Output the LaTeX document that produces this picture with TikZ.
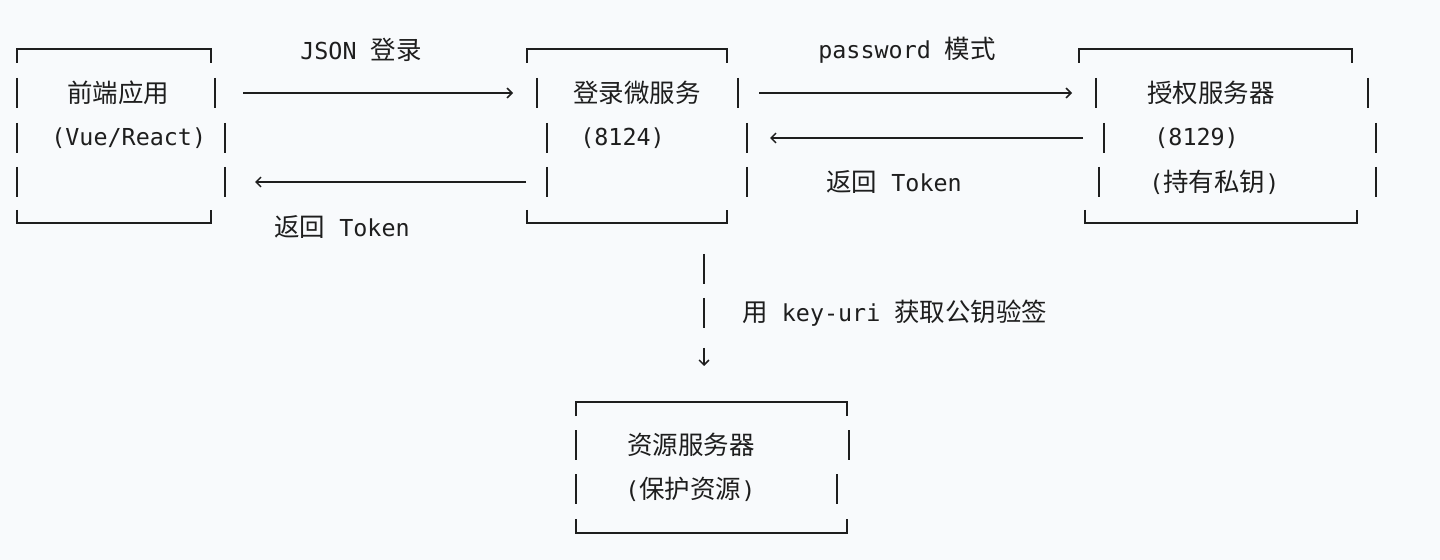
\documentclass[tikz,border=0pt]{standalone}
\usepackage{xcolor}
\usepackage{fontspec}
\setmonofont{DejaVu Sans Mono}
\newfontfamily\cjk[Scale=1.09]{Noto Sans CJK SC}
\newcommand{\zh}[1]{{\cjk #1}}
\usepackage{tikz}
\usetikzlibrary{arrows.meta}
\definecolor{bg}{HTML}{F8FAFC}
\definecolor{ink}{HTML}{1E1E1E}

\begin{document}
\begin{tikzpicture}[x=0.02cm, y=0.02cm, text=ink,
        font=\ttfamily\fontsize{13.3pt}{16pt}\selectfont,
        frame/.style={draw=ink, line width=1.1pt},
        flow/.style={color=ink, line width=0.8pt, -{Straight Barb[length=2.8pt, width=5.6pt, line width=0.9pt]}},
        txt/.style={anchor=west, inner sep=0pt}]
        \fill[bg] (0,0) rectangle (1440,-560);
        \useasboundingbox (0,0) rectangle (1440,-560);

        % boxes
        \draw[frame] (17,-63) |- (211,-49) -- (211,-63);
        \draw[frame] (17,-210) |- (211,-223) -- (211,-210);
        \draw[frame] (527,-63) |- (727,-49) -- (727,-63);
        \draw[frame] (527,-210) |- (727,-223) -- (727,-210);
        \draw[frame] (1079,-63) |- (1352,-49) -- (1352,-63);
        \draw[frame] (1085,-210) |- (1357,-223) -- (1357,-210);
        \draw[frame] (576,-416) |- (847,-402) -- (847,-416);
        \draw[frame] (576,-519) |- (847,-533) -- (847,-519);
        \foreach \x/\y in {17/93, 215/93, 17/138, 225/138, 17/182, 225/182,
                537/93, 738/93, 547/138, 747/138, 547/182, 747/182,
                1096/93, 1368/93, 1104/138, 1376/138, 1099/182, 1376/182,
                576/445, 849/445, 576/489, 837/489, 704/269, 704/313}
            \draw[frame] (\x,-\y+15) -- (\x,-\y-15);

        \node[txt] (fe1) at (67,-93) {\zh{前端应用}};
        \node[txt] (fe2) at (51,-138) {(Vue/React)};
        \node[txt] (lg1) at (573,-93) {\zh{登录微服务}};
        \node[txt] (lg2) at (580,-138) {(8124)};
        \node[txt] (au1) at (1147,-93) {\zh{授权服务器}};
        \node[txt] (au2) at (1154,-138) {(8129)};
        \node[txt] (au3) at (1149,-182) {(\zh{持有私钥})};
        \node[txt] (rs1) at (627,-445) {\zh{资源服务器}};
        \node[txt] (rs2) at (625,-489) {(\zh{保护资源})};

        \node[txt] (jsonlbl) at (300,-50) {JSON \zh{登录}};
        \node[txt] (tok1) at (274,-227) {\zh{返回} Token};
        \node[txt] (pwdlbl) at (818,-50) {password \zh{模式}};
        \node[txt] (tok2) at (826,-182) {\zh{返回} Token};
        \node[txt] (keylbl) at (742,-313) {\zh{用} key-uri \zh{获取公钥验签}};

        \coordinate (feOut) at (243,-93);
        \coordinate (lgIn) at (513,-93);
        \coordinate (lgBack) at (526,-182);
        \coordinate (feIn) at (255,-182);
        \coordinate (lgOut) at (759,-93);
        \coordinate (auIn) at (1072,-93);
        \coordinate (auBack) at (1083,-138);
        \coordinate (lgIn2) at (770,-138);
        \coordinate (dnTop) at (704,-348);
        \coordinate (dnEnd) at (704,-366);

        \path[flow]
        (feOut) edge (lgIn)
        (lgBack) edge (feIn)
        (lgOut) edge (auIn)
        (auBack) edge (lgIn2)
        (dnTop) edge (dnEnd);

\end{tikzpicture}
\end{document}
